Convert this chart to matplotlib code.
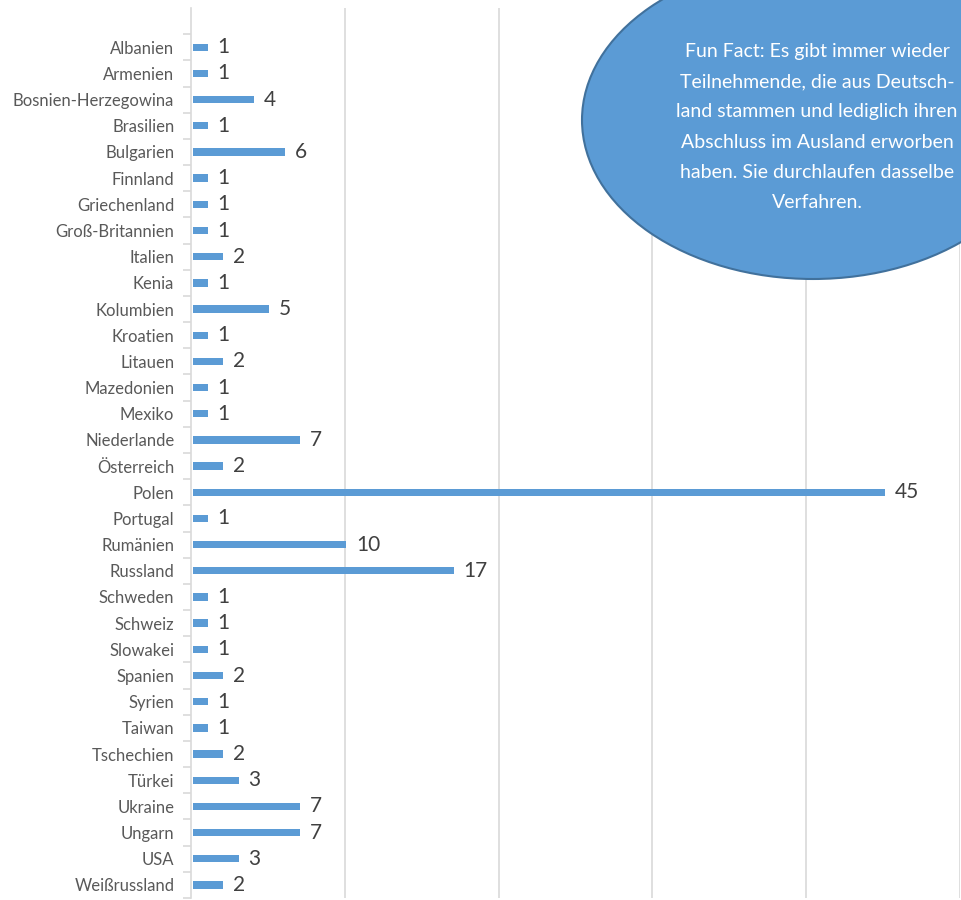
import matplotlib
matplotlib.use("Agg")
import matplotlib.pyplot as plt
from matplotlib.patches import Ellipse
from matplotlib.transforms import IdentityTransform

countries = ["Albanien", "Armenien", "Bosnien-Herzegowina", "Brasilien", "Bulgarien",
             "Finnland", "Griechenland", "Groß-Britannien", "Italien", "Kenia",
             "Kolumbien", "Kroatien", "Litauen", "Mazedonien", "Mexiko",
             "Niederlande", "Österreich", "Polen", "Portugal", "Rumänien",
             "Russland", "Schweden", "Schweiz", "Slowakei", "Spanien",
             "Syrien", "Taiwan", "Tschechien", "Türkei", "Ukraine",
             "Ungarn", "USA", "Weißrussland"]
counts = [1, 1, 4, 1, 6, 1, 1, 1, 2, 1, 5, 1, 2, 1, 1, 7, 2, 45, 1, 10,
          17, 1, 1, 1, 2, 1, 1, 2, 3, 7, 7, 3, 2]

fun_fact = ("Fun Fact: Es gibt immer wieder\n"
            "Teilnehmende, die aus Deutsch-\n"
            "land stammen und lediglich ihren\n"
            "Abschluss im Ausland erworben\n"
            "haben. Sie durchlaufen dasselbe\n"
            "Verfahren.")

plt.rcParams['font.family'] = ['Lato', 'DejaVu Sans']

bar_color = "#5B9BD5"
grid_color = "#D9D9D9"

fig = plt.figure(figsize=(9.62, 9.0), dpi=100)
ax = fig.add_axes([191 / 962, 2 / 900, (960 - 191) / 962, 890 / 900])

n = len(countries)
pos = list(range(n))
ax.barh(pos, counts, height=0.28, color=bar_color, left=0.1)
for p, c in zip(pos, counts):
    ax.annotate(str(c), (c + 0.1, p), xytext=(7, 0), textcoords="offset points",
                va="center", ha="left", fontsize=15, color="#404040")

ax.set_xlim(0, 50)
ax.set_ylim(n - 0.5, -1.5)
ax.set_xticks([10, 20, 30, 40, 50])
ax.xaxis.grid(True, color=grid_color, linewidth=1.2)
ax.set_axisbelow(True)
ax.tick_params(axis="x", length=0, labelbottom=False)

ax.set_yticks(pos)
ax.set_yticklabels(countries, fontsize=12, color="#595959")
ax.set_yticks([p - 0.5 for p in range(n + 1)], minor=True)
ax.tick_params(axis="y", which="major", length=0, pad=12)
ax.tick_params(axis="y", which="minor", length=6, color=grid_color, width=1.2)

for s in ["top", "right", "bottom"]:
    ax.spines[s].set_visible(False)
ax.spines["left"].set_color(grid_color)
ax.spines["left"].set_linewidth(1.2)

# speech ellipse, partly outside the figure
ell = Ellipse((813, 780), 462, 318, transform=IdentityTransform(),
              facecolor=bar_color, edgecolor="#41719C", linewidth=1.5, zorder=5)
fig.patches.append(ell)
fig.text(817 / 962, 1 - 127 / 900, fun_fact, ha="center", va="center",
         fontsize=14, color="white", linespacing=1.95, zorder=6)

fig.savefig("out.png", dpi=100)
